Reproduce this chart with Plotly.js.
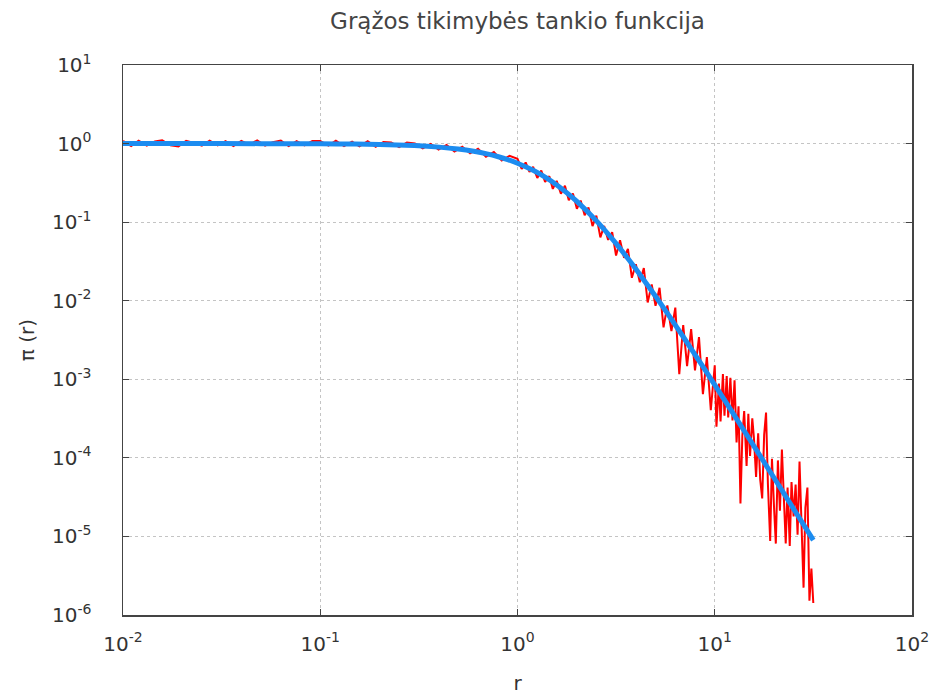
<!DOCTYPE html>
<html>
<head>
<meta charset="utf-8">
<script src="https://cdn.plot.ly/plotly-3.0.1.min.js"></script>
<style>
  html, body { margin: 0; padding: 0; background: #ffffff; }
  #chart { width: 935px; height: 695px; }
</style>
</head>
<body>
<div id="chart"></div>
<script>
// ---- Data ----
// Empirical density (red, noisy)
const rRed = [
  0.0100, 0.0110, 0.0120, 0.0132, 0.0145, 0.0158, 0.0174, 0.0191, 0.0209, 0.0229,
  0.0251, 0.0275, 0.0302, 0.0331, 0.0363, 0.0398, 0.0437, 0.0479, 0.0525, 0.0575,
  0.0631, 0.0692, 0.0759, 0.0832, 0.0912,
  0.100, 0.110, 0.120, 0.132, 0.145, 0.158, 0.174, 0.191, 0.209, 0.229,
  0.251, 0.275, 0.302, 0.331, 0.363, 0.398, 0.437, 0.479, 0.525, 0.575,
  0.631, 0.692, 0.759, 0.832, 0.912,
  1.00, 1.05, 1.10, 1.15, 1.20, 1.26, 1.32, 1.38, 1.45, 1.51,
  1.58, 1.66, 1.74, 1.82, 1.91, 2.00, 2.09, 2.19, 2.29, 2.40,
  2.51, 2.63, 2.75, 2.88, 3.02, 3.16, 3.31, 3.47, 3.63, 3.80,
  3.98, 4.17, 4.37, 4.57, 4.79, 5.01, 5.25, 5.50, 5.75, 6.03,
  6.31, 6.61, 6.92, 7.24, 7.59, 7.94, 8.32, 8.71, 9.12, 9.55,
  10.0, 10.2, 10.5, 10.7, 11.0, 11.2, 11.5, 11.7, 12.0, 12.3,
  12.6, 12.9, 13.2, 13.5, 13.8, 14.1, 14.5, 14.8, 15.1, 15.5,
  15.8, 16.2, 16.6, 17.0, 17.4, 17.8, 18.2, 18.6, 19.1, 19.5,
  20.0, 20.4, 20.9, 21.4, 21.9, 22.4, 22.9, 23.4, 24.0, 24.5,
  25.1, 25.7, 26.3, 26.9, 27.5, 28.2, 28.8, 29.5, 30.2, 30.9, 31.6
];
const piRed = [
  1.08, 0.93, 1.09, 0.94, 1.06, 1.10, 0.95, 0.92, 1.08, 1.02,
  0.94, 1.09, 0.95, 1.07, 0.93, 1.08, 0.96, 1.10, 0.94, 1.04,
  1.09, 0.93, 1.07, 0.95, 1.08,
  1.08, 0.94, 1.09, 0.93, 1.06, 0.92, 1.07, 0.91, 1.05, 1.03,
  0.90, 1.03, 1.00, 0.87, 0.99, 0.84, 0.96, 0.79, 0.91, 0.75,
  0.86, 0.68, 0.78, 0.61, 0.70,
  0.640, 0.475, 0.575, 0.435, 0.505, 0.365, 0.455, 0.325, 0.385, 0.265,
  0.335, 0.230, 0.290, 0.190, 0.232, 0.148, 0.188, 0.122, 0.154, 0.0890,
  0.1210, 0.0640, 0.0895, 0.0595, 0.0745, 0.0375, 0.0588, 0.0352, 0.0458, 0.0196,
  0.0291, 0.0172, 0.0260, 0.00949, 0.0161, 0.00864, 0.0146, 0.00458, 0.00871, 0.00411,
  0.00817, 0.00116, 0.00491, 0.00147, 0.00436, 0.00130, 0.00344, 0.000646, 0.00192, 0.000404,
  1.51e-3, 2.49e-4, 8.84e-4, 2.91e-4, 1.17e-3, 3.45e-4, 1.10e-3, 3.26e-4, 1.046e-3, 3.0e-4,
  9.69e-4, 1.57e-4, 4.54e-4, 2.62e-5, 1.91e-4, 3.93e-4, 7.88e-5, 3.64e-4, 1.06e-4, 3.18e-4,
  1.78e-4, 5.71e-5, 2.06e-4, 5.29e-5, 3.05e-5, 1.97e-4, 3.77e-4, 4.66e-5, 8.77e-6, 9.72e-5,
  2.21e-5, 8.11e-6, 9.28e-5, 2.12e-5, 1.28e-4, 3.53e-5, 8.14e-6, 4.2e-5, 7.55e-6, 4.93e-5,
  1.79e-5, 4.57e-5, 1.05e-5, 8.95e-5, 1.96e-5, 2.23e-6, 2.31e-5, 4.19e-5, 1.52e-6, 3.9e-6, 1.42e-6
];
// Fitted density (blue, smooth)
const rFit = [
  0.01, 0.02, 0.05, 0.1, 0.15, 0.2, 0.3, 0.4, 0.5, 0.6,
  0.7, 0.8, 0.9, 1.0, 1.2, 1.4, 1.6, 1.8, 2.0, 2.5,
  3.0, 3.5, 4.0, 5.0, 6.0, 7.0, 8.0, 9.0, 10, 12,
  14, 16, 18, 20, 22, 25, 28, 31.6
];
const piFit = [
  1.0, 0.9997, 0.9983, 0.9934, 0.985, 0.974, 0.942, 0.901, 0.852, 0.797,
  0.739, 0.679, 0.620, 0.5625, 0.4565, 0.3658, 0.2911, 0.2311, 0.1837, 0.1052,
  0.0625, 0.0387, 0.0249, 0.01148, 0.005917, 0.003329, 0.002005, 0.001276, 0.000848, 0.0004165,
  0.0002273, 0.0001342, 8.42e-5, 5.54e-5, 3.795e-5, 2.28e-5, 1.453e-5, 8.97e-6
];
// Tick labels
const xTickVals = [0.01, 0.1, 1, 10, 100];
const xTickText = ['10<sup>-2</sup>', '10<sup>-1</sup>', '10<sup>0</sup>', '10<sup>1</sup>', '10<sup>2</sup>'];
const yTickVals = [1e-6, 1e-5, 1e-4, 1e-3, 1e-2, 1e-1, 1, 10];
const yTickText = ['10<sup>-6</sup>', '10<sup>-5</sup>', '10<sup>-4</sup>', '10<sup>-3</sup>',
                   '10<sup>-2</sup>', '10<sup>-1</sup>', '10<sup>0</sup>', '10<sup>1</sup>'];

const FONT = 'DejaVu Sans, Verdana, sans-serif';

const traces = [
  {
    x: rRed, y: piRed, type: 'scatter', mode: 'lines',
    line: { color: '#ff0000', width: 2 },
    name: 'empirinė', showlegend: false
  },
  {
    x: rFit, y: piFit, type: 'scatter', mode: 'lines',
    line: { color: '#1c8cf0', width: 5, shape: 'spline', smoothing: 0.6 },
    name: 'teorinė', showlegend: false
  }
];

const axisCommon = {
  type: 'log',
  showline: true, linecolor: '#444444', linewidth: 1.5, mirror: 'ticks',
  ticks: 'inside', ticklen: 6, tickcolor: '#444444', tickwidth: 1,
  showgrid: true, gridcolor: '#c4c4c4', gridwidth: 1, griddash: 'dot',
  zeroline: false,
  tickfont: { family: FONT, size: 20, color: '#333333' }
};

const layout = {
  width: 935, height: 695,
  paper_bgcolor: '#ffffff', plot_bgcolor: '#ffffff',
  margin: { l: 123, r: 23, t: 65, b: 80 },
  showlegend: false,
  title: {
    text: 'Grąžos tikimybės tankio funkcija',
    font: { family: FONT, size: 23, color: '#444444' },
    x: 0.5, xanchor: 'center', xref: 'paper',
    y: 0.97, yanchor: 'middle', yref: 'container'
  },
  xaxis: Object.assign({}, axisCommon, {
    range: [-2, 2],
    tickvals: xTickVals, ticktext: xTickText,
    ticklabelstandoff: 10,
    title: { text: 'r', font: { family: FONT, size: 20, color: '#333333' }, standoff: 24 }
  }),
  yaxis: Object.assign({}, axisCommon, {
    range: [-6, 1],
    tickvals: yTickVals, ticktext: yTickText,
    ticklabelstandoff: 26,
    title: { text: 'π (r)', font: { family: FONT, size: 20, color: '#333333' }, standoff: 12 }
  })
};

Plotly.newPlot('chart', traces, layout, { staticPlot: true, displayModeBar: false });
</script>
</body>
</html>
